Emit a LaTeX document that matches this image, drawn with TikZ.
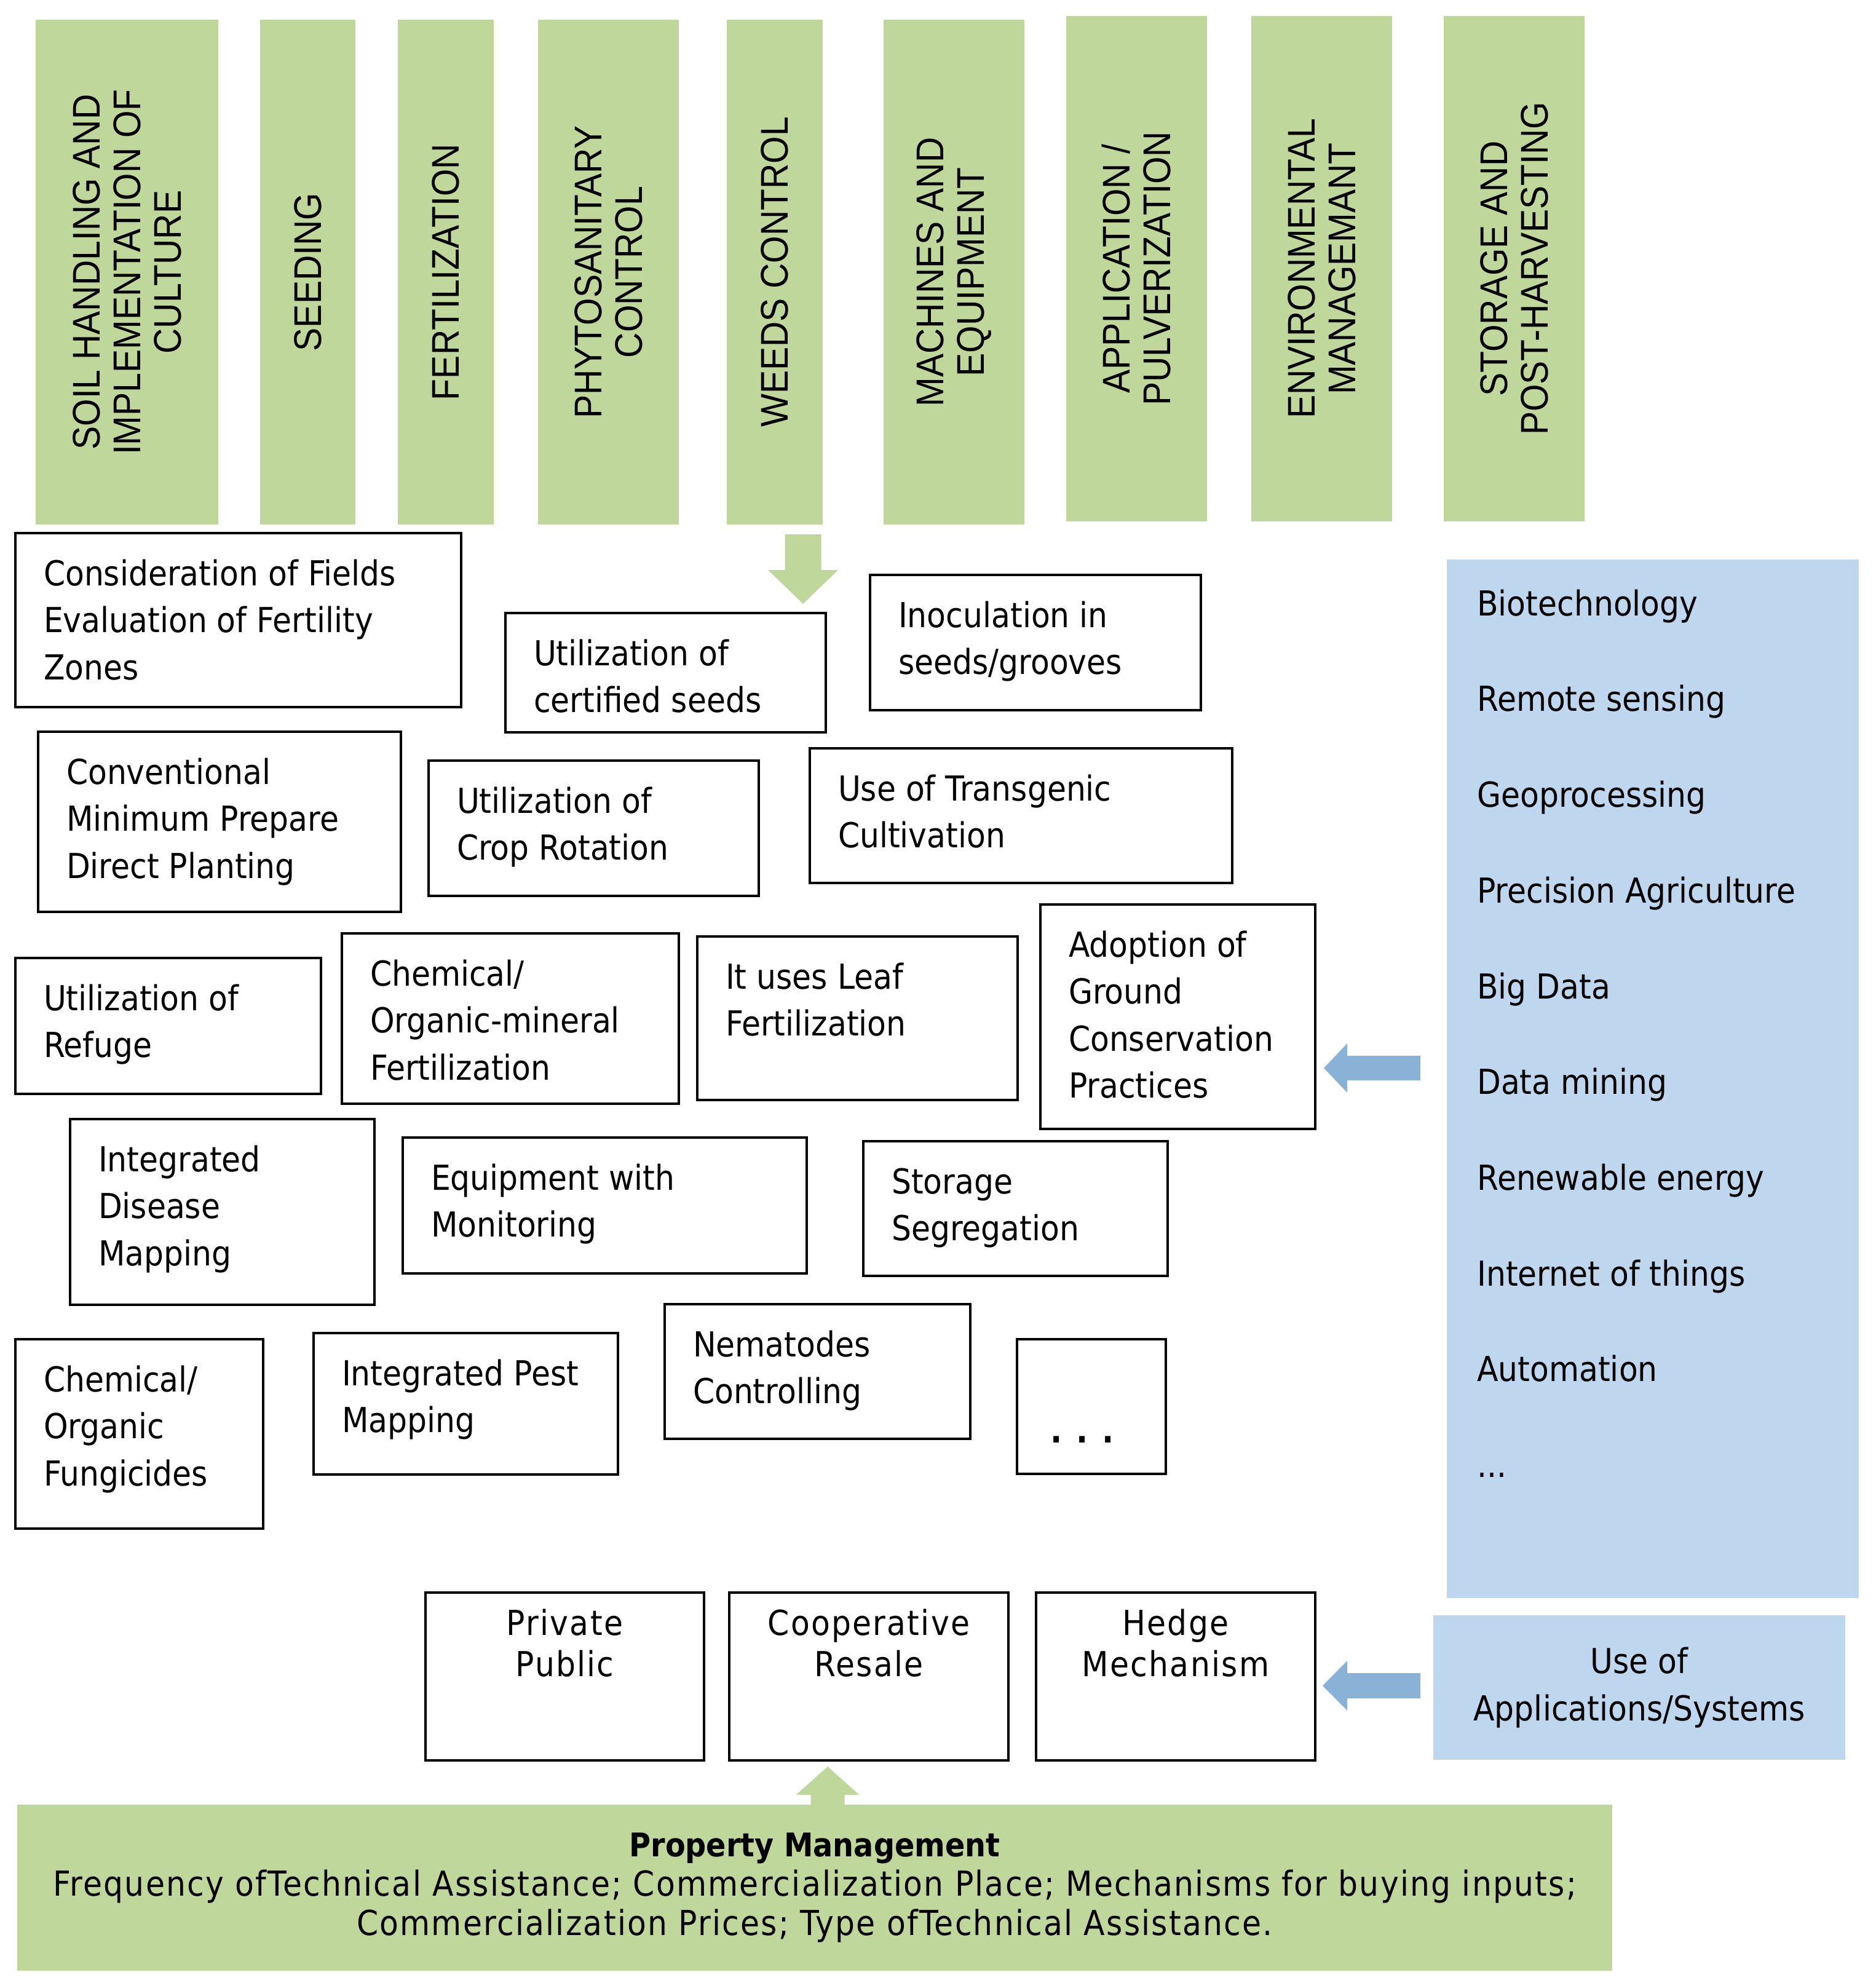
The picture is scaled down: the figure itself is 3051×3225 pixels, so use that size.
\documentclass[tikz,border=0pt]{standalone}
\usepackage{fontspec}
\setmainfont[FakeStretch=0.9]{DejaVu Sans}
\newfontfamily\hdrf[FakeStretch=0.91]{Liberation Sans}
\newfontfamily\spcf[FakeStretch=0.9,LetterSpace=4]{DejaVu Sans}
\definecolor{colgreen}{RGB}{192,215,156}
\definecolor{lblue}{RGB}{190,215,238}
\definecolor{arrblue}{RGB}{138,178,214}
\tikzset{
  col/.style={fill=colgreen, draw=none, inner sep=0pt, align=center, rotate=90,
              font=\hdrf\fontsize{62.8}{66}\selectfont},
  tb/.style={draw=black, line width=4pt, inner sep=0pt, fill=white},
  bfill/.style={fill=lblue, draw=none, inner sep=0pt},
  gfill/.style={fill=colgreen, draw=none, inner sep=0pt},
  garrow/.style={fill=colgreen, draw=none},
  barrow/.style={fill=arrblue, draw=none}
}
\newcommand\tbox[6]{\node[tb, anchor=north west] (#1) at (#2,#3)
  {\parbox[b][#5pt][t]{#4pt}{\fontsize{56}{76.5}\selectfont\raggedright\leftskip=46pt\parindent=0pt\vspace*{41pt}\rule{0pt}{44pt}#6}};}
\newcommand\cbox[6]{\node[tb, anchor=north west] (#1) at (#2,#3)
  {\parbox[b][#5pt][t]{#4pt}{\spcf\fontsize{56}{67}\selectfont\centering\parindent=0pt\vspace*{25pt}\rule{0pt}{44pt}#6}};}
\begin{document}
\begin{tikzpicture}[x=1pt,y=-1pt]
\fill[white] (0,0) rectangle (3051,3225);
\useasboundingbox (0,0) rectangle (3051,3225);

% header columns
\node[col, minimum width=821pt, minimum height=297pt] (c1) at (206.5,442.5) {SOIL HANDLING AND\\IMPLEMENTATION OF\\CULTURE};
\node[col, minimum width=821pt, minimum height=155pt] (c2) at (500.5,442.5) {SEEDING};
\node[col, minimum width=821pt, minimum height=156pt] (c3) at (725,442.5) {FERTILIZATION};
\node[col, minimum width=821pt, minimum height=229pt] (c4) at (989.5,442.5) {PHYTOSANITARY\\CONTROL};
\node[col, minimum width=821pt, minimum height=156pt] (c5) at (1260,442.5) {WEEDS CONTROL};
\node[col, minimum width=821pt, minimum height=229pt] (c6) at (1551.5,442.5) {MACHINES AND\\EQUIPMENT};
\node[col, minimum width=822pt, minimum height=229pt] (c7) at (1848.5,437) {APPLICATION /\\PULVERIZATION};
\node[col, minimum width=822pt, minimum height=229pt] (c8) at (2149.5,437) {ENVIRONMENTAL\\MANAGEMANT};
\node[col, minimum width=822pt, minimum height=229pt] (c9) at (2462.5,437) {STORAGE AND\\POST-HARVESTING};

% green arrow down
\fill[garrow] (1276.5,869) -- (1335.5,869) -- (1335.5,927) -- (1363,927) -- (1306,982) -- (1249,927) -- (1276.5,927) -- cycle;

% practice boxes
\tbox{consid}{23}{865}{725}{283}{Consideration of Fields\\Evaluation of Fertility\\Zones}
\tbox{certif}{820}{995}{521}{194}{Utilization of\\certified seeds}
\tbox{inocul}{1413}{933}{538}{220}{Inoculation in\\seeds/grooves}
\tbox{conven}{60}{1188}{590}{293}{Conventional\\Minimum Prepare\\Direct Planting}
\tbox{croprot}{695}{1235}{537}{220}{Utilization of\\Crop Rotation}
\tbox{transg}{1315}{1215}{687}{219}{Use of Transgenic\\Cultivation}
\tbox{refuge}{23}{1556}{497}{221}{Utilization of\\Refuge}
\tbox{chemmin}{554}{1516}{548}{277}{Chemical/\\Organic-mineral\\Fertilization}
\tbox{leaf}{1132}{1521}{521}{266}{It uses Leaf\\Fertilization}
\tbox{adopt}{1690}{1469}{447}{365}{Adoption of\\Ground\\Conservation\\Practices}
\tbox{disease}{112}{1818}{495}{302}{Integrated\\Disease\\Mapping}
\tbox{equip}{653}{1848}{657}{221}{Equipment with\\Monitoring}
\tbox{storage}{1402}{1854}{495}{219}{Storage\\Segregation}
\tbox{fung}{23}{2176}{403}{308}{Chemical/\\Organic\\Fungicides}
\tbox{pest}{508}{2166}{495}{230}{Integrated Pest\\Mapping}
\tbox{nema}{1079}{2119}{497}{219}{Nematodes\\Controlling}
\node[tb, anchor=north west] (dots) at (1652,2176)
  {\parbox[b][219pt][t]{242pt}{\fontsize{56}{76.5}\selectfont\parindent=0pt\vspace*{124pt}\rule{0pt}{44pt}\hspace*{54pt}\textbf{.\hspace{23pt}.\hspace{23pt}.}}};

% technology list
\node[bfill, anchor=north west] (tech) at (2353,910)
  {\parbox[b][1689pt][t]{670pt}{\fontsize{56}{155.7}\selectfont\raggedright\leftskip=49pt\parindent=0pt\vspace*{47pt}\rule{0pt}{44pt}Biotechnology\\Remote sensing\\Geoprocessing\\Precision Agriculture\\Big Data\\Data mining\\Renewable energy\\Internet of things\\Automation\\...}};
\fill[barrow] (2153,1737) -- (2191,1697) -- (2191,1717) -- (2310,1717) -- (2310,1757) -- (2191,1757) -- (2191,1777) -- cycle;

% management boxes
\cbox{priv}{690}{2588}{453}{273}{Private\\Public}
\cbox{coop}{1184}{2588}{454}{273}{Cooperative\\Resale}
\cbox{hedge}{1683}{2588}{454}{273}{Hedge\\Mechanism}
\node[bfill, minimum width=670pt, minimum height=235pt, align=center,
      font=\fontsize{56}{77}\selectfont] (useof) at (2666,2744.5) {Use of\\Applications/Systems};
\fill[barrow] (2151,2741.5) -- (2191,2701) -- (2191,2721) -- (2310,2721) -- (2310,2762) -- (2191,2762) -- (2191,2782) -- cycle;

% property management
\fill[garrow] (1346,2873) -- (1397.5,2919) -- (1373.5,2919) -- (1373.5,2937) -- (1318.5,2937) -- (1318.5,2919) -- (1294.5,2919) -- cycle;
\node[gfill, minimum width=2594pt, minimum height=270pt, align=center,
      font=\spcf\fontsize{56}{64}\selectfont] (prop) at (1325,3070)
  {{\rmfamily\bfseries\fontsize{53}{64}\selectfont Property Management}\\Frequency ofTechnical Assistance; Commercialization Place; Mechanisms for buying inputs;\\Commercialization Prices; Type ofTechnical Assistance.};
\end{tikzpicture}
\end{document}
